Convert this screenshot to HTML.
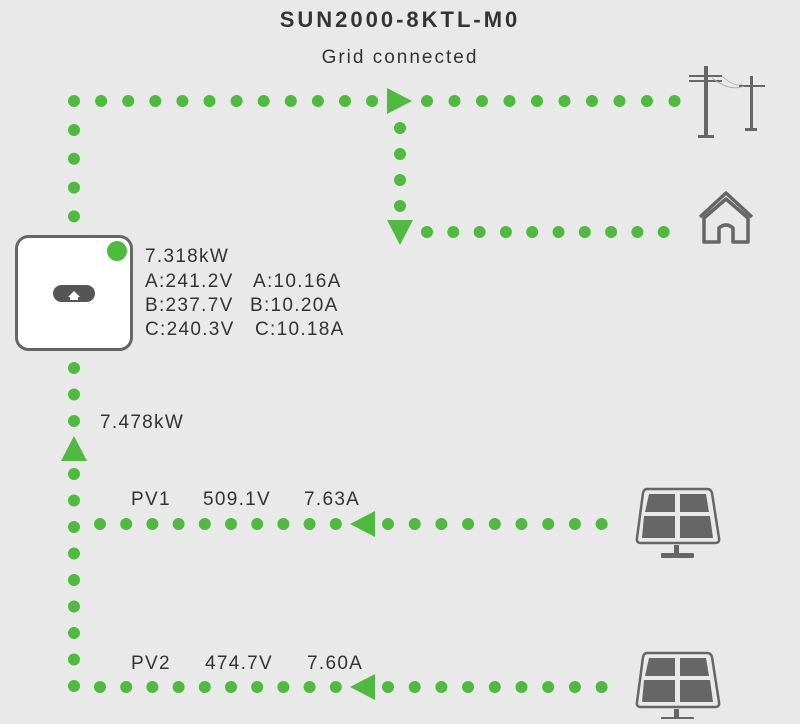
<!DOCTYPE html>
<html><head><style>
body{margin:0;width:800px;height:719px;background:#e9e9e9;overflow:hidden;font-family:"Liberation Sans",sans-serif}
</style></head><body>
<svg width="800" height="719" viewBox="0 0 800 719" xmlns="http://www.w3.org/2000/svg">
<g stroke="#4fba3f" stroke-width="12" stroke-linecap="round" stroke-dasharray="0 27.1" fill="none">
<line x1="74" y1="101" x2="375" y2="101"/>
<line x1="427" y1="101" x2="675" y2="101" stroke-dasharray="0 27.5"/>
<line x1="400" y1="128" x2="400" y2="210" stroke-dasharray="0 26"/>
<line x1="427" y1="232" x2="665" y2="232" stroke-dasharray="0 26.3"/>
<line x1="74" y1="130" x2="74" y2="220" stroke-dasharray="0 28.8"/>
<line x1="74" y1="368" x2="74" y2="425" stroke-dasharray="0 26.5"/>
<line x1="74" y1="474" x2="74" y2="690" stroke-dasharray="0 26.5"/>
<line x1="100" y1="524" x2="340" y2="524" stroke-dasharray="0 26.2"/>
<line x1="388" y1="524" x2="605" y2="524" stroke-dasharray="0 26.7"/>
<line x1="100" y1="687" x2="340" y2="687" stroke-dasharray="0 26.2"/>
<line x1="388" y1="687" x2="605" y2="687" stroke-dasharray="0 26.7"/>
</g>
<g fill="#4fba3f">
<polygon points="387,88 412,101 387,114"/>
<polygon points="387,220 413,220 400,245"/>
<polygon points="61,461 87,461 74,436"/>
<polygon points="375,511 375,537 350,524"/>
<polygon points="375,674 375,700 350,687"/>
</g>
<rect x="16.5" y="236.5" width="115" height="113" rx="12" fill="#fff" stroke="#666" stroke-width="3"/>
<circle cx="117" cy="251" r="10" fill="#4fba3f"/>
<rect x="53" y="285" width="42" height="17" rx="8.5" fill="#555"/>
<path d="M68 297 L74 291 L80 297 Z M70 296 h8 v4 h-8z" fill="#fff"/>
<g font-size="19" fill="#333" letter-spacing="1.3">
<text x="400" y="27" text-anchor="middle" font-size="22" font-weight="bold" letter-spacing="3">SUN2000-8KTL-M0</text>
<text x="400" y="63" text-anchor="middle" letter-spacing="2">Grid connected</text>
<text x="145" y="262">7.318kW</text>
<text x="145" y="287">A:241.2V</text><text x="253" y="287">A:10.16A</text>
<text x="145" y="311">B:237.7V</text><text x="250" y="311">B:10.20A</text>
<text x="145" y="335">C:240.3V</text><text x="255" y="335">C:10.18A</text>
<text x="100" y="428">7.478kW</text>
<text x="131" y="505">PV1</text><text x="203" y="505">509.1V</text><text x="304" y="505">7.63A</text>
<text x="131" y="669">PV2</text><text x="205" y="669">474.7V</text><text x="307" y="669">7.60A</text>
</g>
<g fill="#666" stroke="#666">
<rect x="704" y="66" width="4" height="70" stroke="none"/>
<rect x="689" y="75" width="33" height="2" stroke="none"/>
<rect x="689" y="80" width="33" height="2" stroke="none"/>
<rect x="698" y="135" width="16" height="3" stroke="none"/>
<rect x="750" y="76" width="3" height="54" stroke="none"/>
<rect x="739" y="85" width="26" height="2" stroke="none"/>
<rect x="745" y="128" width="12" height="3" stroke="none"/>
<path d="M722 76 Q735 88 742 84" fill="none" stroke="#aaa" stroke-width="0.8"/>
<path d="M712 78 Q730 92 744 86" fill="none" stroke="#aaa" stroke-width="0.8"/>
</g>
<g fill="none" stroke="#666" stroke-width="3.5" stroke-linejoin="round">
<path d="M700 217 L726 193 L752 217"/>
<path d="M704 218 L726 199 L748 218 L748 242 L733 242 L733 228 Q726 222 719 228 L719 242 L704 242 Z"/>
</g>
<g id="sp">
<path d="M647 489 H707 Q711 489 712 493 L719 538 Q720 543 715 543 H641 Q636 543 637 538 L643 493 Q644 489 647 489 Z" fill="none" stroke="#666" stroke-width="2.5"/>
<path d="M649 494 H675 V512 H645 Z" fill="#666"/>
<path d="M680 494 H706 L709 512 H680 Z" fill="#666"/>
<path d="M644 516 H675 V538 H642 Z" fill="#666"/>
<path d="M680 516 H710 L713 538 H680 Z" fill="#666"/>
<rect x="674" y="545" width="5" height="10" fill="#666"/>
<rect x="661" y="553" width="33" height="5" rx="1" fill="#666"/>
</g>
<use href="#sp" y="164"/>
</svg>
</body></html>
